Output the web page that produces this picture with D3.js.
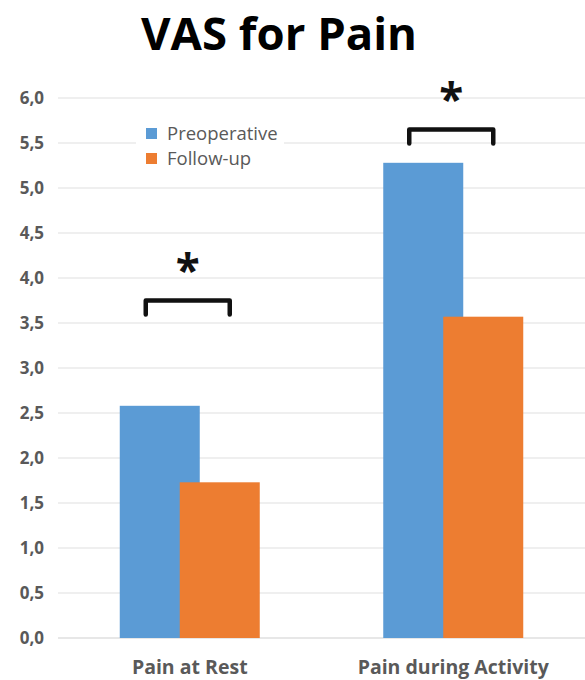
<!DOCTYPE html>
<html><head><meta charset="utf-8">
<script src="https://cdn.jsdelivr.net/npm/d3@7"></script>
<style>body{margin:0;background:#fff}svg{display:block}</style>
</head><body>
<script>
const categories = ["Pain at Rest", "Pain during Activity"];
const seriesNames = ["Preoperative", "Follow-up"];
const preoperative = [2.58, 5.28];
const followUp = [1.73, 3.57];
const yTicks = [0, 0.5, 1, 1.5, 2, 2.5, 3, 3.5, 4, 4.5, 5, 5.5, 6];
const colors = ["#5b9bd5", "#ed7d31"];
const significance = ["*", "*"];
const bracketLevels = [3.75, 5.65];

const W = 585, H = 680;
const svg = d3.select("body").append("svg").attr("width", W).attr("height", H);
const font = "'Open Sans', sans-serif";

const x0 = d3.scaleBand().domain(categories).range([58, 585]).paddingInner(0).paddingOuter(0);
const y = d3.scaleLinear().domain([0, 6]).range([638, 98]);

// gridlines
svg.append("g").selectAll("line").data(yTicks).join("line")
  .attr("x1", 58).attr("x2", 585)
  .attr("y1", d => y(d)).attr("y2", d => y(d))
  .attr("stroke", d => d === 0 ? "#d0d0d0" : "#e0e0e0").attr("stroke-width", 1.2);

// y labels
const yAxis = d3.axisLeft(y).tickValues(yTicks).tickSize(0).tickPadding(0)
  .tickFormat(d => d3.format(".1f")(d).replace(".", ","));
const gy = svg.append("g").attr("transform", "translate(44,0)").call(yAxis);
gy.select(".domain").remove();
gy.selectAll("text").attr("font-family", font).attr("font-weight", "bold")
  .attr("font-size", 17).attr("fill", "#595959");

// bars (overlapping, like the reference)
const barW = 80, overlap = 20;
const series = [preoperative, followUp];
series.forEach((vals, si) => {
  svg.append("g").selectAll("rect").data(categories).join("rect")
    .attr("x", (c) => x0(c) + x0.bandwidth() / 2 - (2 * barW - overlap) / 2 + si * (barW - overlap))
    .attr("width", barW)
    .attr("y", (c, i) => y(vals[i]))
    .attr("height", (c, i) => y(0) - y(vals[i]))
    .attr("fill", colors[si]);
});

// brackets
categories.forEach((c, i) => {
  const cx = x0(c) + x0.bandwidth() / 2;
  const left = cx - 44, right = cx + 40;
  const top = y(bracketLevels[i]);
  svg.append("path")
    .attr("d", `M${left},${top + 14}V${top}H${right}V${top + 14}`)
    .attr("fill", "none").attr("stroke", "#111").attr("stroke-width", 4.5)
    .attr("stroke-linejoin", "round").attr("stroke-linecap", "round");
  svg.append("text").attr("x", (left + right) / 2).attr("y", top - 15)
    .attr("text-anchor", "middle").attr("font-family", font).attr("font-weight", "bold")
    .attr("font-size", 44).attr("fill", "#111").text(significance[i]);
});

// x labels
svg.append("g").selectAll("text").data(categories).join("text")
  .attr("x", c => x0(c) + x0.bandwidth() / 2).attr("y", 674)
  .attr("text-anchor", "middle").attr("font-family", font).attr("font-weight", "bold")
  .attr("font-size", 19.5).attr("fill", "#595959").text(c => c);

// legend
const lg = svg.append("g");
lg.append("rect").attr("x", 136).attr("y", 122).attr("width", 148).attr("height", 48).attr("fill", "#fff");
seriesNames.forEach((n, i) => {
  lg.append("rect").attr("x", 146).attr("y", 128 + i * 25).attr("width", 11).attr("height", 11).attr("fill", colors[i]);
  lg.append("text").attr("x", 167).attr("y", 140 + i * 25).attr("font-family", font)
    .attr("font-size", 18.5).attr("fill", "#595959").text(n);
});

// title
svg.append("text").attr("x", 279).attr("y", 50).attr("text-anchor", "middle")
  .attr("font-family", font).attr("font-weight", "bold").attr("font-size", 45.5)
  .attr("fill", "#000").text("VAS for Pain");
</script>
</body></html>
